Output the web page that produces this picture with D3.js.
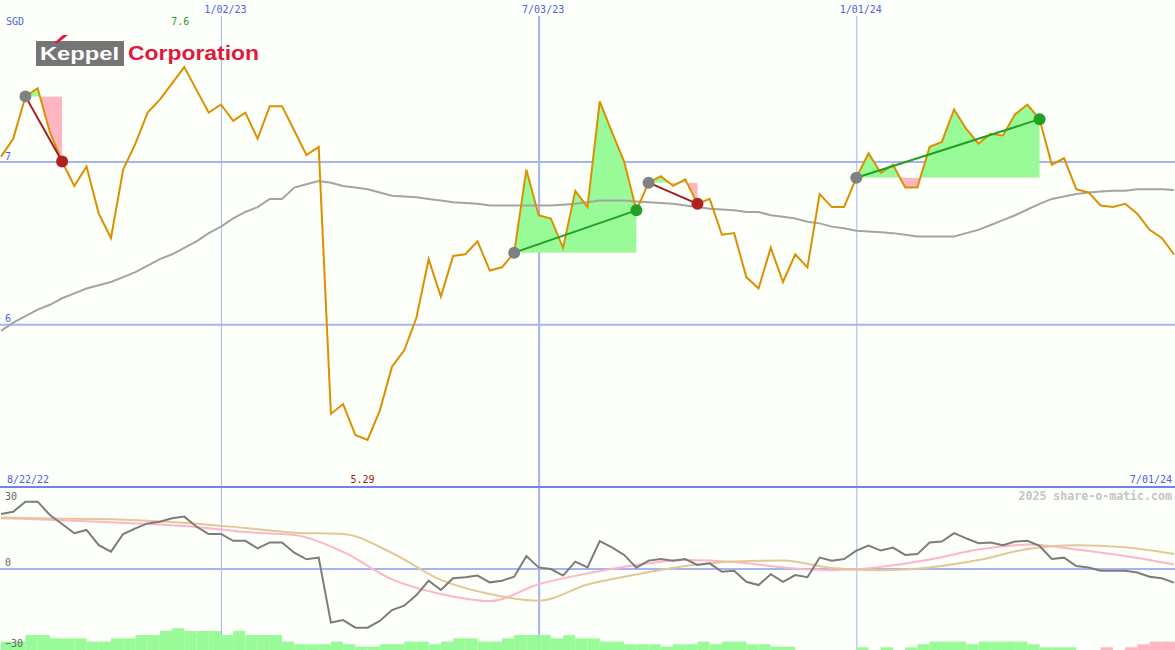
<!DOCTYPE html>
<html><head><meta charset="utf-8">
<script src="https://cdn.jsdelivr.net/npm/d3@7"></script>
<style>
html,body{margin:0;padding:0;background:#fcfffa;}
svg{display:block;}
</style></head><body>
<svg id="chart" width="1175" height="650"></svg>
<script>
// ---------- data ----------
const firstWeek = "2022-08-29";
const lastWeek = "2024-07-01";
const currency = "SGD";
const company = ["Keppel", "Corporation"];
const rangeLabels = ["8/22/22", "7/01/24"];
const maxLabel = "7.6";
const minLabel = "5.29";
const credit = "2025 share-o-matic.com";
const gridDates = ["2023-01-02", "2023-07-03", "2024-01-01"];
const priceTicks = [6, 7];
const oscTicks = [-30, 0, 30];

const price = [7.03,7.14,7.40,7.45,7.18,7.00,6.85,6.97,6.68,6.53,
  6.95,7.11,7.30,7.38,7.48,7.58,7.44,7.30,7.35,7.25,
  7.30,7.14,7.34,7.34,7.19,7.04,7.09,5.45,5.51,5.32,
  5.29,5.47,5.74,5.84,6.04,6.40,6.17,6.42,6.43,6.51,
  6.33,6.35,6.44,6.95,6.67,6.65,6.47,6.82,6.72,7.37,
  7.18,7.00,6.70,6.87,6.91,6.85,6.89,6.74,6.77,6.55,
  6.56,6.29,6.22,6.47,6.26,6.43,6.35,6.80,6.72,6.72,
  6.90,7.05,6.93,6.98,6.84,6.84,7.09,7.12,7.32,7.20,
  7.11,7.17,7.16,7.29,7.35,7.26,6.98,7.02,6.83,6.81,
  6.73,6.72,6.74,6.68,6.58,6.53,6.43];

const movingAvg = [5.96,6.01,6.05,6.09,6.12,6.16,6.19,6.22,6.24,6.26,
  6.29,6.32,6.36,6.40,6.43,6.47,6.51,6.56,6.60,6.65,
  6.69,6.72,6.77,6.77,6.84,6.86,6.88,6.87,6.85,6.84,
  6.83,6.81,6.79,6.785,6.78,6.77,6.76,6.75,6.745,6.74,
  6.73,6.73,6.73,6.73,6.73,6.73,6.735,6.74,6.75,6.76,
  6.76,6.76,6.755,6.75,6.745,6.74,6.73,6.72,6.71,6.705,
  6.70,6.69,6.69,6.67,6.66,6.65,6.63,6.62,6.60,6.59,
  6.575,6.57,6.565,6.56,6.55,6.54,6.54,6.54,6.54,6.56,
  6.58,6.61,6.64,6.67,6.705,6.74,6.77,6.785,6.80,6.81,
  6.815,6.82,6.82,6.83,6.83,6.83,6.825];

const oscillator = [20.1,20.9,24.6,24.6,19.7,16.4,13.0,14.2,8.6,6.2,
  12.7,14.8,16.6,17.2,18.5,19.1,15.4,12.7,12.7,10.2,
  10.2,7.4,9.6,9.6,5.8,3.4,4.0,-19.9,-19.0,-21.8,
  -21.8,-19.3,-15.3,-13.7,-9.8,-4.5,-7.9,-3.6,-3.2,-2.6,
  -5.1,-4.5,-3.0,4.6,0.4,-0.2,-2.6,2.5,0.4,10.1,
  7.8,5.0,0.3,2.9,3.5,2.9,3.5,1.3,1.9,-1.2,
  -0.8,-4.9,-6.1,-2.1,-4.9,-2.4,-3.2,4.0,2.9,3.5,
  6.6,8.4,6.6,7.7,5.0,5.3,9.6,9.9,13.0,11.1,
  9.3,9.6,8.6,9.9,10.2,8.3,3.5,4.0,0.9,0.4,
  -0.8,-0.8,-0.8,-1.5,-3.0,-3.6,-5.2];

const signalWeekIdx = [0,4,8,12,16,20,24,28,32,36,40,44,48,52,56,60,64,68,72,76,80,84,88,92,96];
const pinkSignal = [18.5,17.9,17.2,16.4,15.3,13.4,12.3,6.1,-4.0,-9.4,-12.0,-5.8,-1.8,1.3,3.1,2.4,0.4,-0.6,0.6,3.3,7.0,8.8,7.0,4.6,1.5];
const tanSignal = [18.8,18.4,18.2,17.6,16.5,14.9,13.2,12.7,5.7,-4.2,-9.4,-11.9,-5.9,-2.2,0.9,2.6,2.9,0.2,-0.6,0.4,3.1,7.2,8.6,7.8,5.3];

const strength = [3.1,3.1,5.5,5.5,4.3,4.3,4.3,3.1,3.1,4.3,
  4.3,5.5,5.5,7.0,8.0,7.0,7.0,7.0,5.5,7.0,
  5.5,5.5,5.5,3.1,2.1,2.1,2.1,3.1,2.1,1.2,
  1.2,2.1,2.1,3.1,3.1,2.1,3.1,4.3,4.3,3.1,
  3.1,4.3,5.5,5.5,5.5,4.3,5.5,4.3,4.3,3.1,
  3.1,2.1,2.1,2.1,1.2,2.1,2.1,3.1,2.1,3.1,
  3.1,2.1,2.1,1.2,1.2,0,0,0,0,0,
  1.0,0,1.0,0,1.0,2.1,3.1,3.1,3.1,2.1,
  3.1,3.1,3.1,3.1,2.1,1.0,1.0,1.0,0,0,
  -1.0,0,-1.0,-2.1,-3.1,-3.1,-3.1];

const trendFrom = [2, 42, 53, 70];
const trendTo = [5, 52, 57, 85];

// ---------- setup ----------
const W = 1175, H = 650;
const mono = "'DejaVu Sans Mono', monospace";
const parse = d3.utcParse("%Y-%m-%d");
const weeks = d3.utcMonday.range(parse(firstWeek), d3.utcDay.offset(parse(lastWeek), 1));
const svg = d3.select("#chart");

const x = d3.scaleUtc().domain([weeks[0], weeks[weeks.length - 1]]).range([1, 1174]);
const yP = d3.scaleLinear().domain([6, 7]).range([324.3, 161.5]);
const yO = d3.scaleLinear().domain([-30, 30]).range([650, 487]);

svg.append("rect").attr("width", W).attr("height", H).attr("fill", "#fcfffa");

// price gridlines + labels
const gP = svg.append("g")
  .call(d3.axisLeft(yP).tickValues(priceTicks).tickSize(-W).tickFormat(d3.format("d")));
gP.select(".domain").remove();
gP.selectAll("line").attr("stroke", "#a8b4f0").attr("stroke-width", 2);
gP.selectAll("text").attr("x", 5).attr("dy", -2.5).attr("text-anchor", "start")
  .attr("fill", "#5060e6").attr("font-family", mono).attr("font-size", 10);

// oscillator zero gridline
const gO = svg.append("g")
  .call(d3.axisLeft(yO).tickValues([0]).tickSize(-W).tickFormat(""));
gO.select(".domain").remove();
gO.selectAll(".tick line").attr("stroke", "#a8b4f0").attr("stroke-width", 2);

// vertical date lines + labels
const gX = svg.append("g").attr("transform", "translate(0,16)")
  .call(d3.axisTop(x).tickValues(gridDates.map(parse)).tickFormat(d3.utcFormat("%-m/%d/%y"))
    .tickSize(-(H - 16)).tickPadding(3));
gX.select(".domain").remove();
gX.selectAll(".tick line").attr("stroke", (d, i) => i === 1 ? "#a4b2f2" : "#aab2ea")
  .attr("stroke-width", (d, i) => i === 1 ? 2 : 1);
gX.selectAll("text").attr("dx", 4).attr("fill", "#5060e6").attr("font-family", mono).attr("font-size", 10);

// separator between panels
svg.append("line").attr("x1", 0).attr("x2", W).attr("y1", yO(30)).attr("y2", yO(30))
  .attr("stroke", "#7282ea").attr("stroke-width", 2);

// strength bars
const bars = strength.map((v, i) => ({ v, i })).filter(d => d.v !== 0);
svg.append("g").selectAll("rect").data(bars).join("rect")
  .attr("x", d => x(weeks[d.i]))
  .attr("width", d => (d.i + 1 < weeks.length ? x(weeks[d.i + 1]) : W) - x(weeks[d.i]))
  .attr("y", d => yO(-30 + Math.abs(d.v)))
  .attr("height", d => yO(-30) - yO(-30 + Math.abs(d.v)))
  .attr("fill", d => d.v > 0 ? "#98fb98" : "#ffb6c1");

// trend fills
const defs = svg.append("defs");
const gFill = svg.append("g");
trendFrom.forEach((from, t) => {
  const to = trendTo[t];
  const base = price[from];
  const idx = d3.range(from, to + 1);
  const area = d3.area().x(i => x(weeks[i])).y0(yP(base)).y1(i => yP(price[i]));
  defs.append("clipPath").attr("id", "up" + t).append("rect")
    .attr("x", 0).attr("y", 0).attr("width", W).attr("height", yP(base));
  defs.append("clipPath").attr("id", "dn" + t).append("rect")
    .attr("x", 0).attr("y", yP(base)).attr("width", W).attr("height", yO(30) - yP(base));
  gFill.append("path").datum(idx).attr("d", area).attr("fill", "#98fb98").attr("clip-path", `url(#up${t})`);
  gFill.append("path").datum(idx).attr("d", area).attr("fill", "#ffb6c1").attr("clip-path", `url(#dn${t})`);
});

// moving average
svg.append("path").datum(movingAvg)
  .attr("d", d3.line().x((d, i) => x(weeks[i])).y(d => yP(d)))
  .attr("fill", "none").attr("stroke", "#a4a4a4").attr("stroke-width", 2);

// price line
svg.append("path").datum(price)
  .attr("d", d3.line().x((d, i) => x(weeks[i])).y(d => yP(d)))
  .attr("fill", "none").attr("stroke", "#dc9000").attr("stroke-width", 2).attr("stroke-linejoin", "miter");

// trend lines + dots
const gT = svg.append("g");
trendFrom.forEach((from, t) => {
  const to = trendTo[t];
  const up = price[to] > price[from];
  gT.append("line").attr("x1", x(weeks[from])).attr("y1", yP(price[from]))
    .attr("x2", x(weeks[to])).attr("y2", yP(price[to]))
    .attr("stroke", up ? "#22a022" : "#a41c1c").attr("stroke-width", 2);
  gT.append("circle").attr("cx", x(weeks[from])).attr("cy", yP(price[from])).attr("r", 6).attr("fill", "#808080");
  gT.append("circle").attr("cx", x(weeks[to])).attr("cy", yP(price[to])).attr("r", 6)
    .attr("fill", up ? "#22a022" : "#b02020");
});

// oscillator lines
const sigLine = arr => d3.line().curve(d3.curveMonotoneX)
  .x((d, i) => x(weeks[signalWeekIdx[i]])).y(d => yO(d))(arr);
svg.append("path").attr("d", sigLine(pinkSignal)).attr("fill", "none").attr("stroke", "#ffb4c8").attr("stroke-width", 2);
svg.append("path").attr("d", sigLine(tanSignal)).attr("fill", "none").attr("stroke", "#e2c896").attr("stroke-width", 2);
svg.append("path").datum(oscillator)
  .attr("d", d3.line().x((d, i) => x(weeks[i])).y(d => yO(d)))
  .attr("fill", "none").attr("stroke", "#7c7c7c").attr("stroke-width", 2);

// oscillator labels (on top)
const gOL = svg.append("g")
  .call(d3.axisLeft(yO).tickValues(oscTicks).tickSize(0).tickFormat(d3.format("d")));
gOL.select(".domain").remove();
gOL.selectAll("text").attr("x", 5).attr("dy", d => d === 30 ? 12 : d === 0 ? -3.5 : -4)
  .attr("text-anchor", "start").attr("fill", "#666").attr("font-family", mono).attr("font-size", 10);

// texts
const txt = (s, tx, ty, fill, anchor = "start", size = 10, weight = "normal") =>
  svg.append("text").text(s).attr("x", tx).attr("y", ty).attr("fill", fill)
    .attr("text-anchor", anchor).attr("font-family", mono).attr("font-size", size).attr("font-weight", weight);

txt(currency, 6, 25, "#5060e6");
const maxI = d3.maxIndex(price), minI = d3.minIndex(price);
txt(maxLabel, x(weeks[maxI]) - 4, 25, "#2a9a2a", "middle");
txt(minLabel, x(weeks[minI]) - 5, 483, "#a01818", "middle");
txt(rangeLabels[0], 7, 483, "#5060e6");
txt(rangeLabels[1], 1172, 483, "#5060e6", "end");
txt(credit, 1172, 500, "#c4c4c4", "end", 11.6, "bold");

// logo
const logo = svg.append("g");
logo.append("rect").attr("x", 36).attr("y", 41).attr("width", 88).attr("height", 25).attr("fill", "#757575");
logo.append("text").text(company[0]).attr("x", 40).attr("y", 60)
  .attr("font-family", "'Liberation Sans', Arial, sans-serif").attr("font-weight", "bold").attr("font-size", 19)
  .attr("fill", "#fff").attr("textLength", 79).attr("lengthAdjust", "spacingAndGlyphs");
logo.append("polygon").attr("points", "54,43 58,43 68,35 63,35").attr("fill", "#e2183c");
logo.append("text").text(company[1]).attr("x", 128).attr("y", 60)
  .attr("font-family", "'Liberation Sans', Arial, sans-serif").attr("font-weight", "bold").attr("font-size", 21)
  .attr("fill", "#e2183c").attr("textLength", 131).attr("lengthAdjust", "spacingAndGlyphs");
</script>
</body></html>
